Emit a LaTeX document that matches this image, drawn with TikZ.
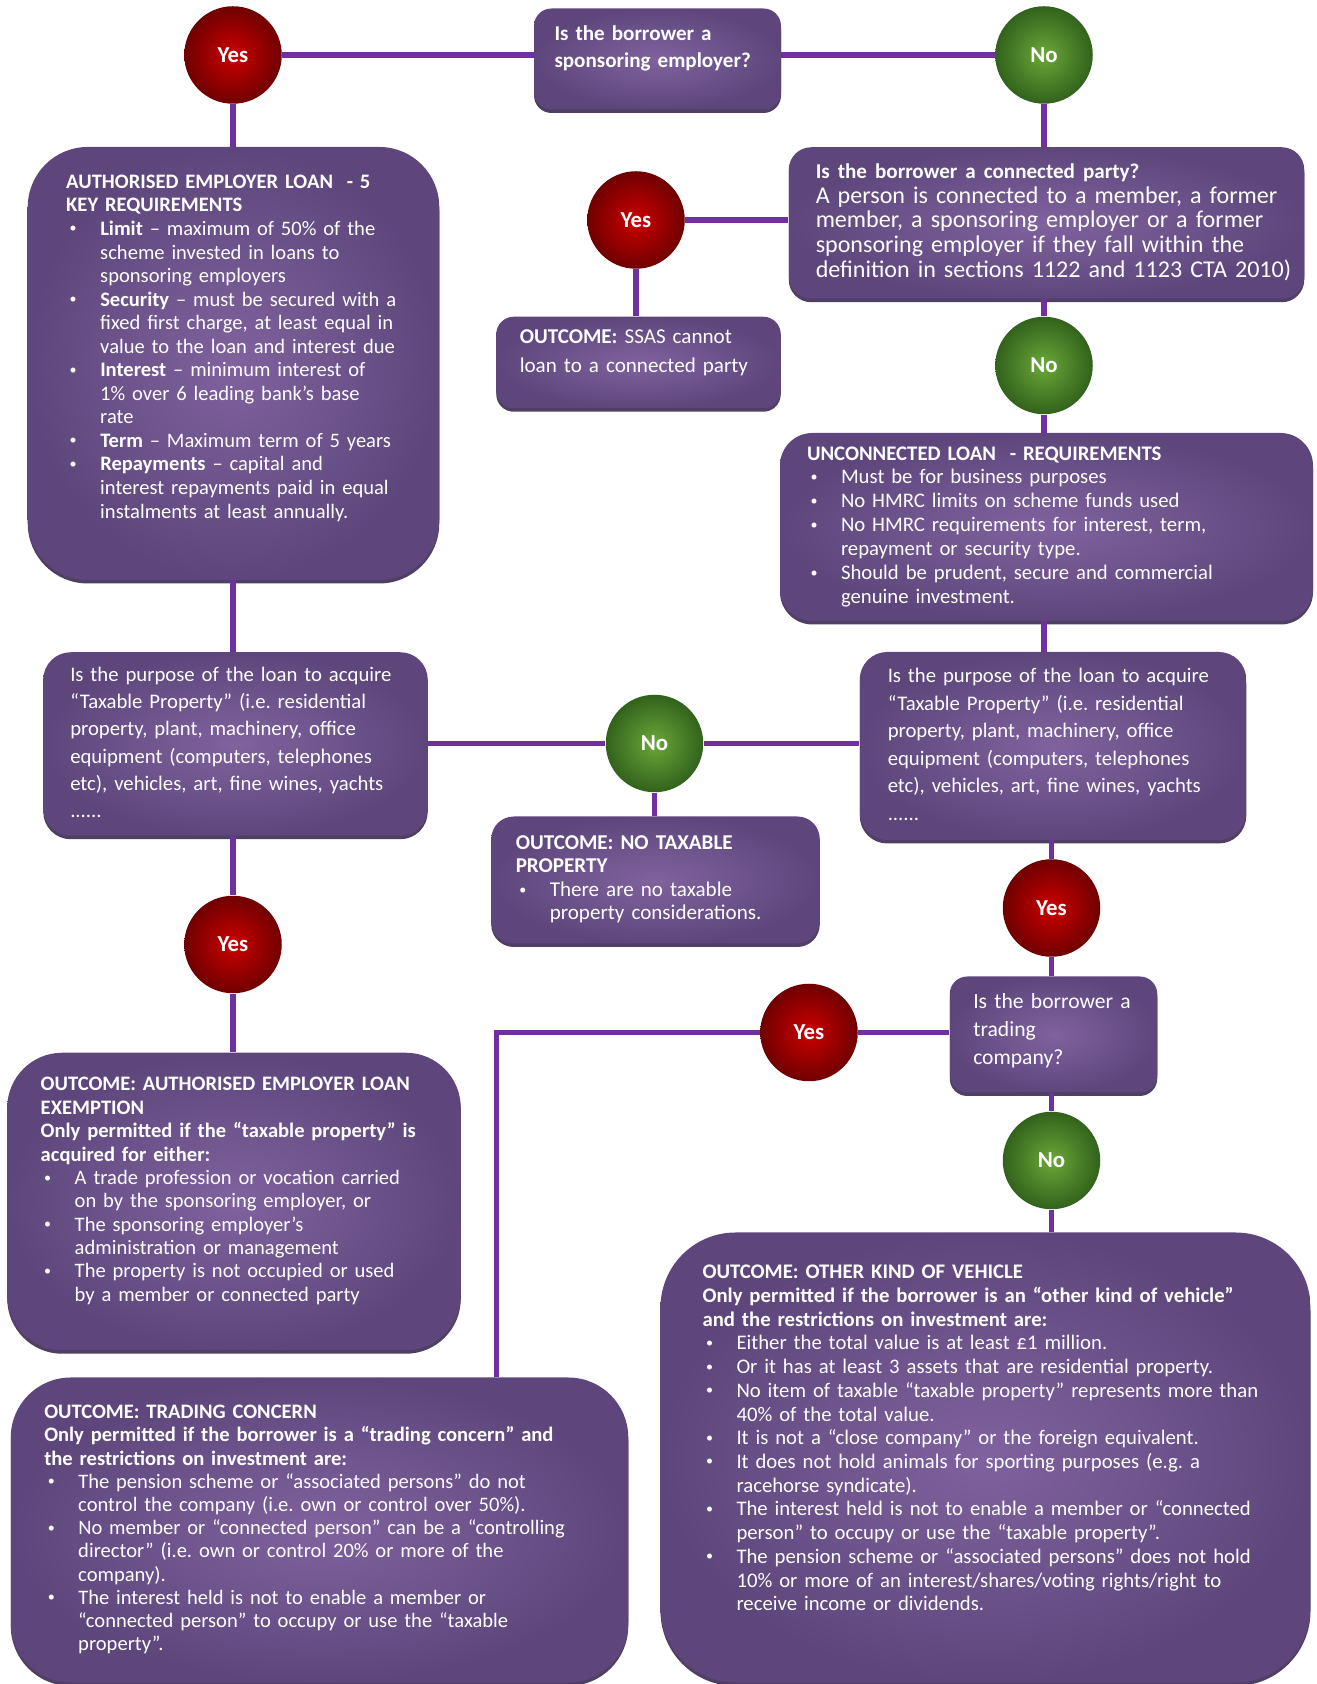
\documentclass[tikz,border=0pt]{standalone}
\usepackage{fontspec}
\setmainfont{Carlito}
\usepackage{tikz}
\usetikzlibrary{positioning, shadows}
\frenchspacing

\definecolor{Boxlight}{RGB}{128,98,158}
\definecolor{Boxdark}{RGB}{94,70,124}
\definecolor{Boxshade}{RGB}{60,42,82}
\definecolor{Linkpurple}{RGB}{112,48,160}
\definecolor{Yeslight}{RGB}{204,0,0}
\definecolor{Yesdark}{RGB}{112,0,0}
\definecolor{Nolight}{RGB}{106,168,56}
\definecolor{Nodark}{RGB}{50,98,28}

%% viñeta y sangría de las listas
\newcommand{\itemdot}{\hspace*{0.07cm}\makebox[0.61cm][l]{%
  \raisebox{0.12em}{\fontsize{8}{8}\selectfont\textbullet}}}
\newcommand{\itemcont}{\hspace*{0.68cm}}
\newcommand{\liftup}[1]{\par\vspace{#1}\kern0pt}

\begin{document}
\begin{tikzpicture}[
  infobox/.style={
    rectangle, rounded corners=#1,
    inner color=Boxlight, outer color=Boxdark,
    text=white, align=left, inner ysep=0pt,
    font=\fontsize{12}{13.5}\selectfont,
    drop shadow={shadow xshift=0pt, shadow yshift=-0.07cm,
                 fill=Boxshade, opacity=0.9}
  },
  infobox/.default=0.4cm,
  %% bolas Yes / No
  ball/.style={
    circle, minimum size=1.95cm, inner sep=0pt,
    text=white, font=\fontsize{13}{15}\selectfont\bfseries
  },
  yesball/.style={ball, inner color=Yeslight, outer color=Yesdark},
  noball/.style={ball, inner color=Nolight, outer color=Nodark},
  link/.style={line width=3pt, draw=Linkpurple}
]
\useasboundingbox (0,0) rectangle (26.32,33.68);

%% ── Pregunta inicial ───────────────────────────────────────────────────────
\node[infobox=0.35cm, text width=4.12cm, inner xsep=0.41cm,
      minimum height=2.02cm,
      font=\fontsize{12}{15.2}\selectfont\bfseries] (sponsorq) at (13.15, 32.50)
  {\begin{tabular}{@{}l@{}}
   Is the borrower a\\
   sponsoring employer?
   \end{tabular}\liftup{0.4cm}};

\node[yesball] (yesSp) at (4.66, 32.58) {Yes};
\node[noball]  (noSp)  at (20.88, 32.58) {No};

%% ── Rama izquierda: préstamo autorizado ────────────────────────────────────
\node[infobox=1.2cm, text width=6.69cm, inner xsep=0.77cm,
      minimum height=8.66cm,
      font=\fontsize{11.7}{13.4}\selectfont] (authreq) at (4.67, 26.41)
  {\begin{tabular}{@{}l@{}}
   \textbf{AUTHORISED EMPLOYER LOAN\ \ - 5}\\
   \textbf{KEY REQUIREMENTS}\\
   \itemdot\textbf{Limit} – maximum of 50\% of the\\
   \itemcont scheme invested in loans to\\
   \itemcont sponsoring employers\\
   \itemdot\textbf{Security} – must be secured with a\\
   \itemcont fixed first charge, at least equal in\\
   \itemcont value to the loan and interest due\\
   \itemdot\textbf{Interest} – minimum interest of\\
   \itemcont 1\% over 6 leading bank’s base\\
   \itemcont rate\\
   \itemdot\textbf{Term} – Maximum term of 5 years\\
   \itemdot\textbf{Repayments} – capital and\\
   \itemcont interest repayments paid in equal\\
   \itemcont instalments at least annually.
   \end{tabular}\liftup{0.6cm}};

%% ── Rama derecha: parte conectada ──────────────────────────────────────────
\node[infobox=0.45cm, text width=9.23cm, inner xsep=0.54cm,
      minimum height=3.03cm,
      font=\fontsize{13.7}{14}\selectfont] (connq) at (20.93, 29.22)
  {\begin{tabular}{@{}l@{}}
   {\fontsize{12}{14}\selectfont\bfseries Is the borrower a connected party?}\\
   A person is connected to a member, a former\\
   member, a sponsoring employer or a former\\
   sponsoring employer if they fall within the\\
   definition in sections 1122 and 1123 CTA 2010)
   \end{tabular}};

\node[yesball] (yesCo) at (12.72, 29.28) {Yes};

\node[infobox=0.35cm, text width=4.75cm, inner xsep=0.47cm,
      minimum height=1.83cm,
      font=\fontsize{12}{16.4}\selectfont] (noloan) at (12.77, 26.43)
  {\begin{tabular}{@{}l@{}}
   \textbf{OUTCOME:} SSAS cannot\\
   loan to a connected party
   \end{tabular}\liftup{0.4cm}};

\node[noball] (noCo) at (20.88, 26.37) {No};

\node[infobox=0.65cm, text width=9.58cm, inner xsep=0.54cm,
      minimum height=3.76cm,
      font=\fontsize{11.8}{13.6}\selectfont] (unconreq) at (20.93, 23.14)
  {\begin{tabular}{@{}l@{}}
   \textbf{UNCONNECTED LOAN\ \ - REQUIREMENTS}\\
   \itemdot Must be for business purposes\\
   \itemdot No HMRC limits on scheme funds used\\
   \itemdot No HMRC requirements for interest, term,\\
   \itemcont repayment or security type.\\
   \itemdot Should be prudent, secure and commercial\\
   \itemcont genuine investment.
   \end{tabular}};

%% ── Propiedad gravable (izquierda | centro | derecha) ──────────────────────
\node[infobox=0.55cm, text width=6.61cm, inner xsep=0.54cm,
      minimum height=3.67cm,
      font=\fontsize{11.8}{15.5}\selectfont] (taxqL) at (4.71, 18.80)
  {\begin{tabular}{@{}l@{}}
   Is the purpose of the loan to acquire\\
   “Taxable Property” (i.e. residential\\
   property, plant, machinery, office\\
   equipment (computers, telephones\\
   etc), vehicles, art, fine wines, yachts\\
   ......
   \end{tabular}};

\node[noball] (noTax) at (13.09, 18.81) {No};

\node[infobox=0.55cm, text width=6.61cm, inner xsep=0.56cm,
      minimum height=3.76cm,
      font=\fontsize{11.8}{15.6}\selectfont] (taxqR) at (21.06, 18.76)
  {\begin{tabular}{@{}l@{}}
   Is the purpose of the loan to acquire\\
   “Taxable Property” (i.e. residential\\
   property, plant, machinery, office\\
   equipment (computers, telephones\\
   etc), vehicles, art, fine wines, yachts\\
   ......
   \end{tabular}};

\node[infobox=0.45cm, text width=5.59cm, inner xsep=0.49cm,
      minimum height=2.54cm,
      font=\fontsize{12}{12.8}\selectfont] (notaxout) at (13.11, 16.08)
  {\begin{tabular}{@{}l@{}}
   \textbf{OUTCOME: NO TAXABLE}\\
   \textbf{PROPERTY}\\[1pt]
   \itemdot There are no taxable\\
   \itemcont property considerations.
   \end{tabular}};

\node[yesball] (yesTaxL) at (4.66, 14.79) {Yes};
\node[yesball] (yesTaxR) at (21.03, 15.52) {Yes};

%% ── Empresa comercial ──────────────────────────────────────────────────────
\node[infobox=0.35cm, text width=3.21cm, inner xsep=0.47cm,
      minimum height=2.32cm,
      font=\fontsize{12.3}{15.8}\selectfont] (tradeq) at (21.07, 12.99)
  {\begin{tabular}{@{}l@{}}
   Is the borrower a\\
   trading\\
   company?
   \end{tabular}\liftup{0.15cm}};

\node[yesball] (yesTr) at (16.18, 13.03) {Yes};
\node[noball]  (noTr)  at (21.03, 10.47) {No};

%% ── Resultados ─────────────────────────────────────────────────────────────
\node[infobox=1.1cm, text width=7.73cm, inner xsep=0.67cm,
      minimum height=5.95cm,
      font=\fontsize{11.7}{13.3}\selectfont] (authout) at (4.68, 9.65)
  {\begin{tabular}{@{}l@{}}
   \textbf{OUTCOME: AUTHORISED EMPLOYER LOAN}\\
   \textbf{EXEMPTION}\\
   \textbf{Only permitted if the “taxable property” is}\\
   \textbf{acquired for either:}\\
   \itemdot A trade profession or vocation carried\\
   \itemcont on by the sponsoring employer, or\\
   \itemdot The sponsoring employer’s\\
   \itemcont administration or management\\
   \itemdot The property is not occupied or used\\
   \itemcont by a member or connected party
   \end{tabular}\liftup{0.4cm}};

\node[infobox=1.2cm, text width=11.01cm, inner xsep=0.67cm,
      minimum height=6.1cm,
      font=\fontsize{11.7}{13.2}\selectfont] (tradeout) at (6.39, 3.08)
  {\begin{tabular}{@{}l@{}}
   \textbf{OUTCOME: TRADING CONCERN}\\
   \textbf{Only permitted if the borrower is a “trading concern” and}\\
   \textbf{the restrictions on investment are:}\\
   \itemdot The pension scheme or “associated persons” do not\\
   \itemcont control the company (i.e. own or control over 50\%).\\
   \itemdot No member or “connected person” can be a “controlling\\
   \itemcont director” (i.e. own or control 20\% or more of the\\
   \itemcont company).\\
   \itemdot The interest held is not to enable a member or\\
   \itemcont “connected person” to occupy or use the “taxable\\
   \itemcont property”.
   \end{tabular}};

\node[infobox=1.5cm, text width=11.32cm, inner xsep=0.84cm,
      minimum height=9.0cm,
      font=\fontsize{11.8}{13.5}\selectfont] (otherout) at (19.71, 4.53)
  {\begin{tabular}{@{}l@{}}
   \textbf{OUTCOME: OTHER KIND OF VEHICLE}\\
   \textbf{Only permitted if the borrower is an “other kind of vehicle”}\\
   \textbf{and the restrictions on investment are:}\\
   \itemdot Either the total value is at least £1 million.\\
   \itemdot Or it has at least 3 assets that are residential property.\\
   \itemdot No item of taxable “taxable property” represents more than\\
   \itemcont 40\% of the total value.\\
   \itemdot It is not a “close company” or the foreign equivalent.\\
   \itemdot It does not hold animals for sporting purposes (e.g. a\\
   \itemcont racehorse syndicate).\\
   \itemdot The interest held is not to enable a member or “connected\\
   \itemcont person” to occupy or use the “taxable property”.\\
   \itemdot The pension scheme or “associated persons” does not hold\\
   \itemcont 10\% or more of an interest/shares/voting rights/right to\\
   \itemcont receive income or dividends.
   \end{tabular}\liftup{0.7cm}};

%% ────────────────── CONECTORES ─────────────────────────────────────────────
\draw[link] (yesSp) -- (yesSp -| sponsorq.west);
\draw[link] (sponsorq.east |- noSp) -- (noSp);
\draw[link] (yesSp) -- (yesSp |- authreq.north);
\draw[link] (noSp) -- (noSp |- connq.north);

\draw[link] (yesCo) -- (yesCo -| connq.west);
\draw[link] (yesCo) -- (yesCo |- noloan.north);
\draw[link] (noCo |- connq.south) -- (noCo);
\draw[link] (noCo) -- (noCo |- unconreq.north);
\draw[link] (noCo |- unconreq.south) -- (noCo |- taxqR.north);

\draw[link] (yesTaxL |- authreq.south) -- (yesTaxL |- taxqL.north);
\draw[link] (taxqL.east |- noTax) -- (noTax);
\draw[link] (noTax) -- (noTax -| taxqR.west);
\draw[link] (noTax) -- (noTax |- notaxout.north);

\draw[link] (yesTaxL |- taxqL.south) -- (yesTaxL);
\draw[link] (yesTaxL) -- (yesTaxL |- authout.north);
\draw[link] (yesTaxR |- taxqR.south) -- (yesTaxR);
\draw[link] (yesTaxR) -- (yesTaxR |- tradeq.north);

%% comercial: Yes -> trading concern, No -> other vehicle
\draw[link] (tradeq.west |- yesTr) -- (yesTr);
\draw[link] (yesTr) -| ([xshift=3.54cm]tradeout.north);
\draw[link] (noTr |- tradeq.south) -- (noTr);
\draw[link] (noTr) -- (noTr |- otherout.north);

\end{tikzpicture}
\end{document}
